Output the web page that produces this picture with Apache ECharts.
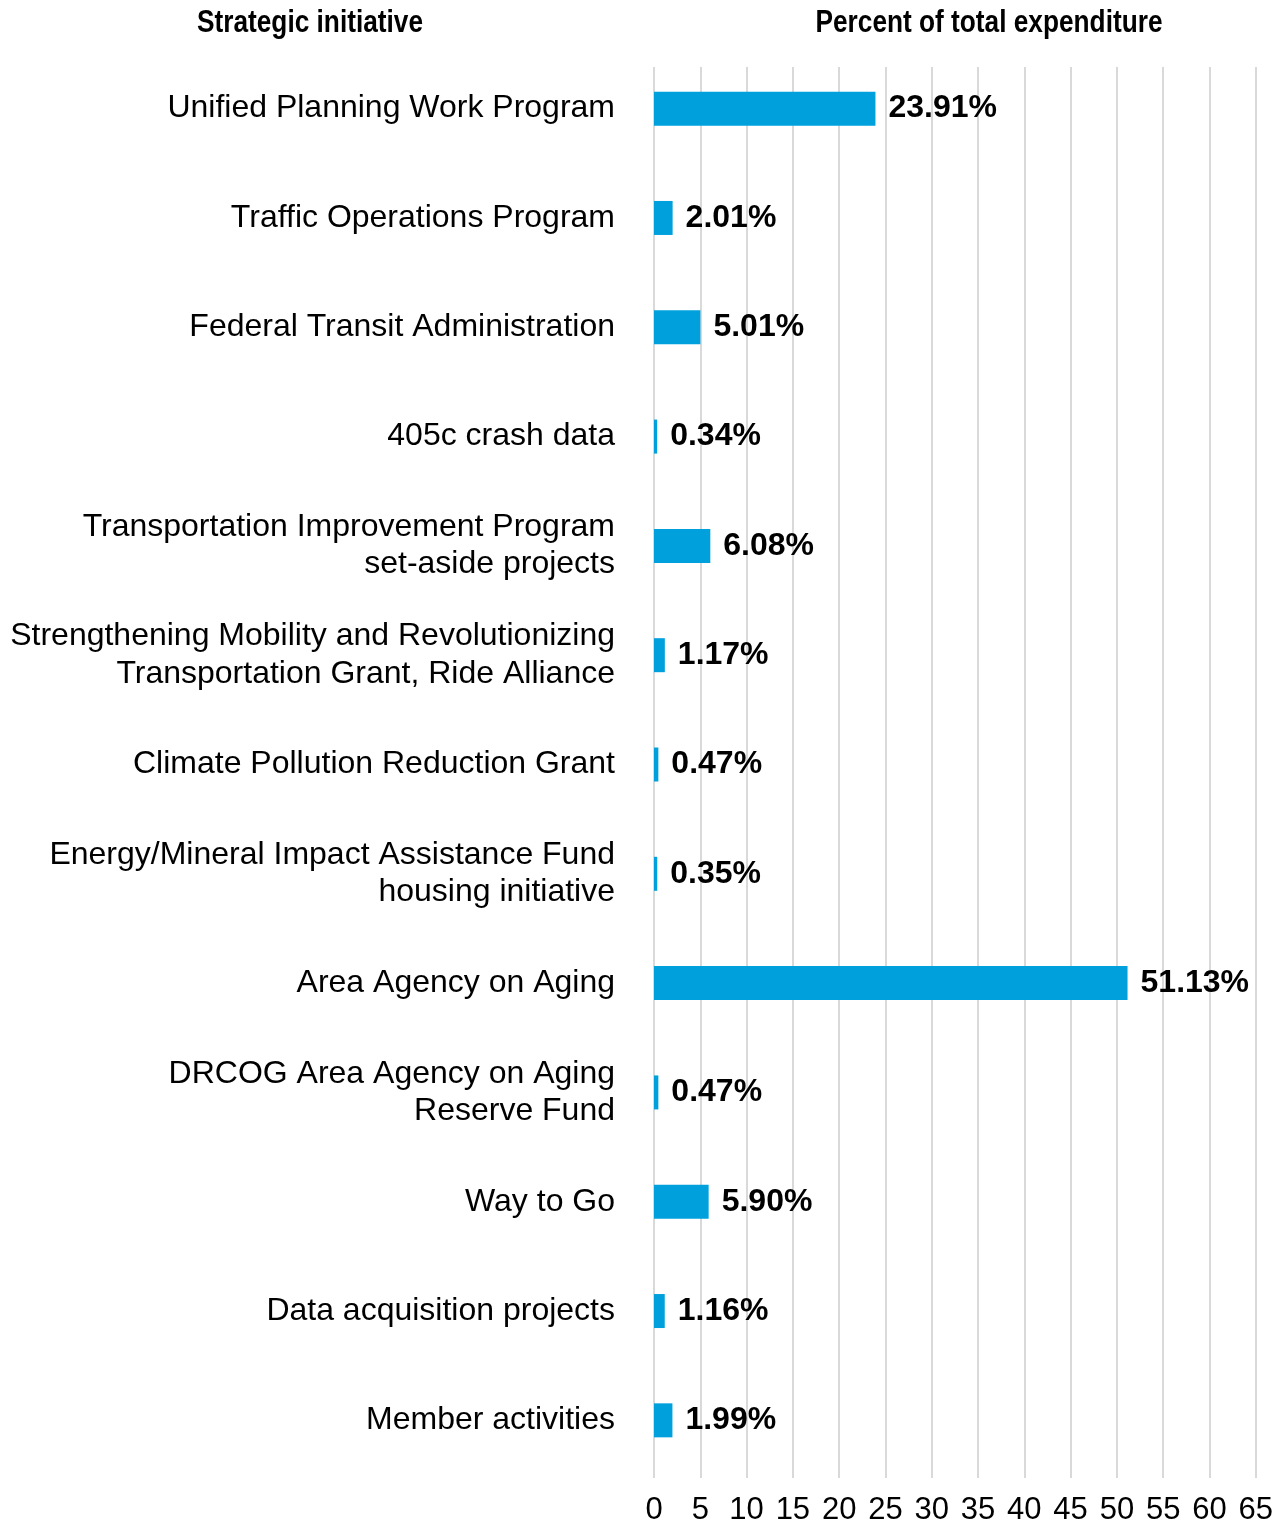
<!DOCTYPE html>
<html>
<head>
<meta charset="utf-8">
<title>Percent of total expenditure by strategic initiative</title>
<script src="https://cdn.jsdelivr.net/npm/echarts@6/dist/echarts.min.js"></script>
<style>
  html, body { margin: 0; padding: 0; background: #fff; }
  #chart { width: 1276px; height: 1526px; }
</style>
</head>
<body>
<div id="chart"></div>
<script>
const initiatives = [
  'Unified Planning Work Program',
  'Traffic Operations Program',
  'Federal Transit Administration',
  '405c crash data',
  'Transportation Improvement Program\nset-aside projects',
  'Strengthening Mobility and Revolutionizing\nTransportation Grant, Ride Alliance',
  'Climate Pollution Reduction Grant',
  'Energy/Mineral Impact Assistance Fund\nhousing initiative',
  'Area Agency on Aging',
  'DRCOG Area Agency on Aging\nReserve Fund',
  'Way to Go',
  'Data acquisition projects',
  'Member activities'
];
const percentOfTotal = [23.91, 2.01, 5.01, 0.34, 6.08, 1.17, 0.47, 0.35, 51.13, 0.47, 5.90, 1.16, 1.99];
const axisMin = 0;
const axisMax = 65;
const axisStep = 5;

const chart = echarts.init(document.getElementById('chart'));

// headers use a narrow bold face; squeeze Liberation Sans Bold horizontally
function header(text, x) {
  return {
    type: 'text', x: x, y: 23, scaleX: 0.82,
    style: {
      text: text, textAlign: 'center', textVerticalAlign: 'middle',
      fontFamily: '"Liberation Sans", Arial, sans-serif',
      fontWeight: 'bold', fontSize: 32, fill: '#000'
    }
  };
}

const options = {
  animation: false,
  graphic: [
    header('Strategic initiative', 310),
    header('Percent of total expenditure', 989)
  ],
  grid: [
    // gridlines + tick labels
    { left: 654, right: 20, top: 67, height: 1415 },
    // bars + category labels
    { left: 654, right: 20, top: 54, height: 1421 }
  ],
  xAxis: [
    {
      gridIndex: 0,
      type: 'value',
      min: axisMin, max: axisMax, interval: axisStep,
      position: 'bottom',
      axisLine: { show: false },
      axisTick: { show: false },
      splitLine: { show: true, lineStyle: { color: '#d9d9d9', width: 2 } },
      axisLabel: {
        margin: 17,
        fontFamily: '"Liberation Sans", Arial, sans-serif',
        fontSize: 31, color: '#000'
      }
    },
    {
      gridIndex: 1,
      type: 'value',
      min: axisMin, max: axisMax, interval: axisStep,
      show: false
    }
  ],
  yAxis: [
    {
      gridIndex: 0,
      type: 'value',
      show: false
    },
    {
      gridIndex: 1,
      type: 'category',
      inverse: true,
      data: initiatives,
      axisLine: { show: false },
      axisTick: { show: false },
      splitLine: { show: false },
      axisLabel: {
        margin: 39,
        fontFamily: '"Liberation Sans", Arial, sans-serif',
        fontSize: 32, lineHeight: 37.5, color: '#000',
        align: 'right'
      }
    }
  ],
  series: [
    {
      type: 'bar',
      xAxisIndex: 1,
      yAxisIndex: 1,
      data: percentOfTotal,
      barWidth: 34,
      itemStyle: { color: '#00a0dc' },
      label: {
        show: true,
        position: 'right',
        distance: 13,
        formatter: p => p.value.toFixed(2) + '%',
        fontFamily: '"Liberation Sans", Arial, sans-serif',
        fontWeight: 'bold', fontSize: 32, color: '#000'
      }
    }
  ]
};

chart.setOption(options);
</script>
</body>
</html>
